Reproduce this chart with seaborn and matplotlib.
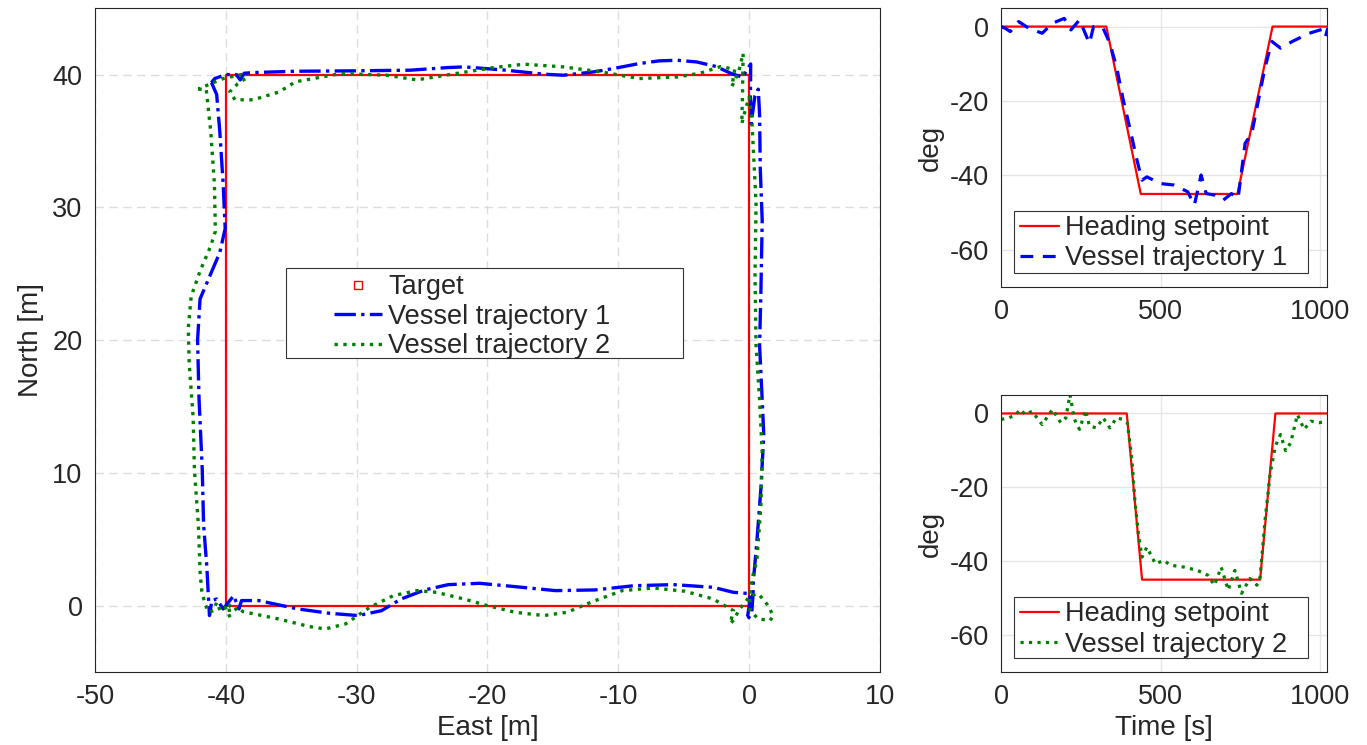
import numpy as np
import pandas as pd
import matplotlib
matplotlib.use('Agg')
import matplotlib.pyplot as plt
from matplotlib.lines import Line2D
from matplotlib.patches import Rectangle
import seaborn as sns

# square target path
target_x = [-40, 0, 0, -40, -40]
target_y = [0, 0, 40, 40, 0]

# vessel trajectory 1
traj1_x = [-41.1, -40.7, -40.46, -40.2, -40.05, -40.46, -41.28, -41.97, -42.16, -42.05,
           -41.8, -41.7, -41.45, -41.35, -41.25, -41.07, -40.7, -40.2, -39.4, -39.0,
           -38.8, -37.5, -34.5, -32.05, -29.9, -28.1, -26.6, -24.8, -23.0, -20.6,
           -17.9, -14.8, -11.8, -8.8, -5.8, -2.75, -1.2, 0.08, 0.0, -0.17,
           0.2, 0.3, 0.32, 0.59, 0.9, 1.12, 1.0, 0.8, 0.9, 1.0,
           0.85, 0.8, 0.7, 0.45, 0.15, 0.1, 0.12, -0.5, -1.37, -2.5,
           -4.0, -5.5, -6.9, -8.4, -10.4, -11.9, -14.2, -15.7, -18.6, -20.1,
           -21.8, -23.0, -25.9, -30.3, -34.7, -37.9, -38.6, -38.9, -39.2, -40.0,
           -40.85, -41.1]
traj1_y = [39.4, 38.5, 35.7, 31.7, 28.4, 26.6, 24.7, 23.1, 20.0, 15.6,
           10.2, 6.1, 2.9, 1.0, -0.75, 0.38, 0.5, -0.25, 0.75, -0.25,
           0.38, 0.38, -0.25, -0.58, -0.75, -0.38, 0.5, 1.18, 1.58, 1.68,
           1.43, 1.13, 1.18, 1.5, 1.58, 1.38, 1.0, 0.9, -0.1, -1.1,
           -0.6, 0.9, 1.8, 4.8, 8.8, 12.85, 15.5, 19.6, 23.6, 29.0,
           33.0, 37.0, 38.9, 38.4, 36.3, 38.5, 40.8, 39.8, 40.08, 40.6,
           40.95, 41.08, 41.03, 40.83, 40.45, 40.2, 39.95, 40.03, 40.33, 40.45,
           40.58, 40.53, 40.33, 40.28, 40.25, 40.15, 40.1, 39.6, 40.0, 40.0,
           39.7, 39.4]

# vessel trajectory 2
traj2_x = [-42.1, -41.5, -41.15, -40.87, -40.8, -41.15, -41.97, -42.65, -42.87, -42.8,
           -42.5, -42.4, -42.1, -41.96, -41.84, -41.6, -41.3, -40.94, -40.7, -40.43,
           -40.05, -39.67, -39.8, -39.4, -39.03, -38.7, -36.0, -33.6, -32.4, -30.85,
           -29.0, -27.2, -25.4, -23.9, -21.8, -20.0, -17.9, -15.7, -13.9, -12.1,
           -9.7, -7.3, -4.9, -2.75, -1.2, -1.45, -1.2, -0.7, -0.3, 0.08,
           0.7, 1.35, 1.85, 1.6, 0.7, 0.08, 0.05, 0.19, 0.59, 0.9,
           1.0, 0.8, 0.53, 0.45, 0.53, 0.32, 0.19, 0.0, -0.3, -0.56,
           -0.5, -0.46, -0.8, -1.32, -1.1, -2.2, -3.75, -5.5, -8.4, -11.3,
           -14.2, -17.2, -19.5, -22.4, -25.4, -27.7, -31.2, -34.7, -35.9, -37.9,
           -39.3, -39.7, -39.1, -38.5, -38.8, -40.2, -41.2, -42.1]
traj2_y = [38.9, 38.9, 35.7, 31.7, 28.2, 27.1, 25.2, 23.3, 20.9, 18.2,
           14.2, 10.2, 6.1, 2.4, 1.13, 0.13, -0.5, -0.38, 0.25, -0.38,
           -0.13, -0.88, 0.13, -0.38, -0.13, -0.45, -1.0, -1.58, -1.76, -1.38,
           -0.13, 0.75, 1.13, 1.0, 0.5, 0.0, -0.5, -0.75, -0.5, 0.25,
           1.13, 1.33, 1.08, 0.5, -0.38, -1.36, -1.1, -0.23, 0.25, 0.75,
           0.9, 0.13, -0.75, -1.13, -1.0, -0.38, 0.75, 1.9, 3.4, 7.5,
           11.5, 15.5, 19.6, 24.9, 30.3, 34.4, 37.0, 38.3, 37.3, 36.3,
           38.8, 41.6, 40.2, 39.1, 40.4, 40.6, 40.1, 39.82, 39.7, 40.2,
           40.58, 40.78, 40.53, 40.08, 39.6, 39.95, 40.08, 39.45, 38.7, 38.1,
           38.1, 38.7, 39.3, 39.7, 40.0, 39.7, 39.3, 38.9]

# heading, run 1
sp1_t = [0, 330, 438, 741, 851, 1024]
sp1_h = [0, 0, -45, -45, 0, 0]
hd1_t = [0, 13, 29, 55, 87, 129, 161, 198, 219, 246, 277, 290, 320, 341, 362, 383,
         405, 426, 442, 457, 500, 542, 585, 606, 627, 643, 669, 696, 722, 743, 765,
         786, 807, 828, 849, 876, 913, 966, 1008, 1017, 1024]
hd1_h = [0, -0.45, -1.35, 1.35, -0.45, -1.8, 0.9, 2.2, -0.9, 1.8, -4.5, 0, -0.45,
         -4.5, -10.8, -19.7, -27.8, -35.9, -41.3, -40.4, -42.2, -42.6, -44.4, -48.0,
         -39.9, -44.9, -45.3, -46.7, -44.9, -46.2, -31.4, -28.7, -19.7, -10.8, -4.0,
         -5.8, -4.0, -1.8, -0.7, -2.7, -0.45]

# heading, run 2
sp2_t = [0, 394, 442, 812, 860, 1024]
sp2_h = [0, 0, -45, -45, 0, 0]
hd2_t = [0, 23, 44, 60, 76, 97, 129, 161, 187, 203, 216, 230, 246, 265, 277, 299,
         320, 341, 362, 381, 396, 410, 420, 431, 442, 457, 484, 510, 532, 574, 616,
         648, 669, 690, 712, 733, 754, 780, 802, 812, 828, 844, 860, 876, 892, 908,
         929, 950, 971, 997, 1024]
hd2_h = [-1.6, -1.2, -0.5, 1.1, -0.3, 0.6, -3.0, 1.1, -2.5, -1.2, 5.1, -1.6, -4.3,
         0.9, -3.4, -3.9, -1.2, -3.9, -1.2, -1.6, -2.5, -12.4, -24.1, -33.0, -38.9,
         -36.2, -40.7, -39.8, -41.1, -41.6, -42.5, -43.8, -46.5, -41.6, -47.8, -42.5,
         -48.7, -44.7, -46.5, -44.3, -28.5, -16.0, -8.8, -5.7, -10.1, -7.9, -0.3,
         -4.3, -2.1, -2.5, -2.1]

sns.set_style('white')
plt.rcParams['font.family'] = ['Liberation Sans', 'DejaVu Sans']
plt.rcParams['axes.unicode_minus'] = False
plt.rcParams['xtick.direction'] = 'in'
plt.rcParams['ytick.direction'] = 'in'

FS = 19.5
fig = plt.figure(figsize=(13.67, 7.45), dpi=100)
ax = fig.add_axes([0.0695, 0.098, 0.5742, 0.891])
ax1 = fig.add_axes([0.7323, 0.6148, 0.2385, 0.3745])
ax2 = fig.add_axes([0.7323, 0.098, 0.2385, 0.3718])

blue = '#0000ff'
green = '#008000'
red = '#ff0000'


def boxed_legend(a, handles, labels, box, anchor, hlen, spacing):
    # MATLAB 风格图例：手动画框
    a.add_patch(Rectangle((box[0], box[1]), box[2] - box[0], box[3] - box[1],
                          transform=a.transAxes, facecolor='white', edgecolor='#333333',
                          lw=0.8, zorder=5))
    lg = a.legend(handles, labels, loc='upper left', bbox_to_anchor=anchor, frameon=False,
                  fontsize=FS, handlelength=hlen, handletextpad=0.22, borderpad=0,
                  borderaxespad=0, labelspacing=spacing)
    lg.set_zorder(6)
    return lg


# 位置图
sns.lineplot(x=target_x, y=target_y, sort=False, estimator=None, color=red, lw=1.6, ax=ax)
sns.lineplot(x=traj1_x, y=traj1_y, sort=False, estimator=None, color=blue, lw=2.4,
             linestyle='-.', ax=ax)
sns.lineplot(x=traj2_x, y=traj2_y, sort=False, estimator=None, color=green, lw=2.4,
             linestyle=':', ax=ax)
ax.set_xlim(-50, 10)
ax.set_ylim(-5, 45)
ax.set_xticks(range(-50, 11, 10))
ax.set_yticks(range(0, 41, 10))
ax.grid(True, linestyle=(0, (6, 4)), color='#dddddd', lw=1)
ax.set_axisbelow(True)
ax.set_xlabel('East [m]', fontsize=FS + 0.5, labelpad=3)
ax.set_ylabel('North [m]', fontsize=FS + 0.5, family=['Liberation Sans Narrow', 'Liberation Sans'], labelpad=6)
ax.tick_params(labelsize=FS, length=5, width=0.8, pad=9)

handles = [Line2D([], [], color=red, marker='s', ms=6, mfc='none', mew=1, lw=0),
           Line2D([], [], color=blue, lw=2.4, linestyle='-.'),
           Line2D([], [], color=green, lw=2.4, linestyle=':')]
boxed_legend(ax, handles, ['Target', 'Vessel trajectory 1', 'Vessel trajectory 2'],
             (0.2433, 0.473, 0.749, 0.6084), (0.3045, 0.599), 1.78, 0.125)

# 航向图
for a, sp_t, sp_h, hd_t, hd_h, col, ls, lab, box, anc in [
        (ax1, sp1_t, sp1_h, hd1_t, hd1_h, blue, (0, (4, 3)), 'Vessel trajectory 1',
         (0.04, 0.051, 0.9417, 0.2735), (0.058, 0.258)),
        (ax2, sp2_t, sp2_h, hd2_t, hd2_h, green, ':', 'Vessel trajectory 2',
         (0.04, 0.0505, 0.9417, 0.2708), (0.058, 0.255))]:
    sns.lineplot(x=sp_t, y=sp_h, sort=False, estimator=None, color=red, lw=1.6, ax=a)
    sns.lineplot(x=hd_t, y=hd_h, sort=False, estimator=None, color=col, lw=2.3,
                 linestyle=ls, ax=a)
    a.set_xlim(0, 1022)
    a.set_ylim(-70, 5)
    a.set_xticks([0, 500, 1000])
    a.set_yticks([-60, -40, -20, 0])
    a.grid(True, color='#e6e6e6', lw=1)
    a.set_axisbelow(True)
    a.set_ylabel('deg', fontsize=FS + 0.5, family=['Liberation Sans Narrow', 'Liberation Sans'], labelpad=4)
    a.tick_params(labelsize=FS, length=4, width=0.8, pad=9)
    hs = [Line2D([], [], color=red, lw=1.6), Line2D([], [], color=col, lw=2.3, linestyle=ls)]
    boxed_legend(a, hs, ['Heading setpoint', lab], box, anc, 1.45, 0.16)
ax2.set_xlabel('Time [s]', fontsize=FS + 0.5, labelpad=3)

for a in (ax, ax1, ax2):
    for s in a.spines.values():
        s.set_color('#262626')
        s.set_linewidth(0.8)

plt.savefig('out.png', dpi=100)
